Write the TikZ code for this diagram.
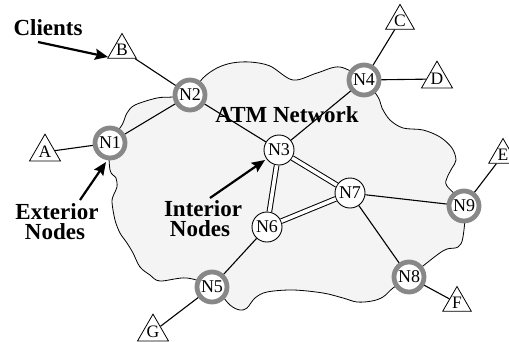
\documentclass[tikz,border=0pt]{standalone}
\usepackage{fontspec}
\setmainfont{Liberation Serif}
\usetikzlibrary{shapes.geometric,arrows.meta}
\definecolor{cloudfill}{HTML}{F4F4F4}
\definecolor{ringgray}{HTML}{888888}
\begin{document}
\begin{tikzpicture}[x=1pt,y=-1pt,
  exterior/.style={circle,draw=ringgray,line width=4.8pt,fill=white,minimum size=30pt,inner sep=0pt,font=\fontsize{18}{18}\selectfont},
  interior/.style={circle,draw=black,line width=0.9pt,fill=white,minimum size=30pt,inner sep=0pt,font=\fontsize{18}{18}\selectfont},
  client/.style={regular polygon,regular polygon sides=3,draw=black,line width=0.8pt,fill=white,minimum size=33pt,inner sep=0pt,font=\fontsize{17.5}{17.5}\selectfont},
  link/.style={line width=1.1pt},
  trunk/.style={double=white,double distance=3.6pt,line width=1pt},
  caption/.style={font=\fontsize{23}{23}\selectfont\bfseries,inner sep=0pt},
  pointer/.style={line width=2.2pt,-{Stealth[length=13pt,width=11pt,inset=2pt]}}]
\useasboundingbox (0,0) rectangle (509,341);

% the network cloud
\draw[fill=cloudfill,line width=0.8pt] plot[smooth cycle,tension=0.55] coordinates {
  (110,143) (122,125) (127,113) (135,105) (157,98) (173,97) (190,95)
  (203,78) (217,68) (232,63) (250,62) (270,66) (293,80) (317,73) (340,67) (364,80)
  (378,97) (382,108) (390,120) (403,128) (423,130) (440,137) (452,148) (456,160)
  (452,168) (447,178) (447,186) (464,206)
  (463,237) (458,247) (447,249) (437,255) (409,277)
  (393,288) (383,297) (372,301) (357,302) (343,298) (323,293) (293,290) (267,292)
  (255,298) (247,308) (240,310) (230,305) (213,287)
  (187,278) (160,281) (150,275) (140,267) (133,253) (127,243) (120,233) (115,220)
  (112,202) (114,194) (117,187) (116,178) (110,170)};

% switches
\node[exterior] (n1) at (110,143) {N1};
\node[exterior] (n2) at (190,95) {N2};
\node[interior] (n3) at (279,150) {N3};
\node[exterior] (n4) at (364,80) {N4};
\node[exterior] (n5) at (212,287) {N5};
\node[interior] (n6) at (267,227) {N6};
\node[interior] (n7) at (350,193) {N7};
\node[exterior] (n8) at (409,277) {N8};
\node[exterior] (n9) at (464,206) {N9};

% clients
\node[client] (a) at (45,152) {A};
\node[client] (b) at (122,50) {B};
\node[client] (c) at (400,21) {C};
\node[client] (d) at (437,79) {D};
\node[client] (e) at (503,155) {E};
\node[client] (f) at (457,303) {F};
\node[client] (g) at (153,332) {G};

% links
\draw[link] (a) -- (n1);
\draw[link] (b) -- (n2);
\draw[link] (c) -- (n4);
\draw[link] (d) -- (n4);
\draw[link] (e) -- (n9);
\draw[link] (f) -- (n8);
\draw[link] (g) -- (n5);
\draw[link] (n1) -- (n2);
\draw[link] (n2) -- (n3);
\draw[link] (n3) -- (n4);
\draw[link] (n5) -- (n6);
\draw[link] (n7) -- (n9);
\draw[link] (n7) -- (n8);
\draw[trunk] (n3) -- (n6);
\draw[trunk] (n6) -- (n7);
\draw[trunk] (n3) -- (n7);

% labels and pointers
\node[caption] (net) at (287,115) {ATM Network};
\node[caption] (cl) at (48,28) {Clients};
\node[caption,anchor=base] (ext1) at (57,219.5) {Exterior};
\node[caption,anchor=base] (ext2) at (55,239.5) {Nodes};
\node[caption,anchor=base] (int1) at (203,216.5) {Interior};
\node[caption,anchor=base] (int2) at (200,236.5) {Nodes};

\coordinate (clA) at (38,42);
\coordinate (clB) at (108,57);
\coordinate (exA) at (80,200);
\coordinate (exB) at (106,162);
\coordinate (inA) at (210,198);
\coordinate (inB) at (265,160);
\draw[pointer] (clA) -- (clB);
\draw[pointer] (exA) -- (exB);
\draw[pointer] (inA) -- (inB);
\end{tikzpicture}
\end{document}
